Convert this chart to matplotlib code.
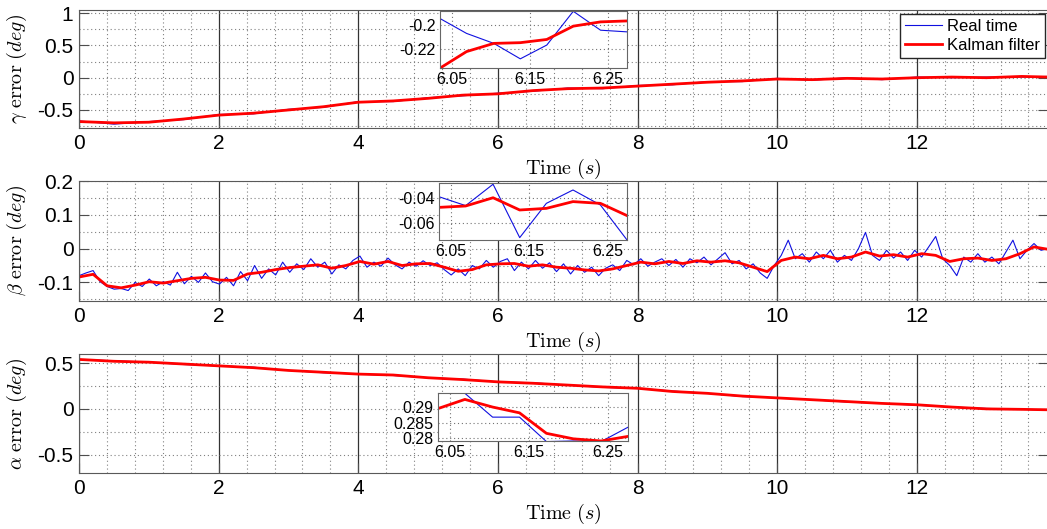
import numpy as np
import matplotlib
matplotlib.use('Agg')
import matplotlib.pyplot as plt

plt.rcParams['font.family'] = ['Liberation Sans', 'DejaVu Sans']
plt.rcParams['mathtext.fontset'] = 'cm'

# ---- gamma error (coarse samples, s / deg)
t_gamma = [0, 0.5, 1.0, 1.5, 2.0, 2.5, 3.0, 3.5, 4.0, 4.5, 5.0, 5.5, 6.0, 6.5,
           7.0, 7.5, 8.0, 8.5, 9.0, 9.5, 10.0, 10.5, 11.0, 11.5, 12.0, 12.5,
           13.0, 13.5, 13.9]
gamma_kf = [-0.68, -0.70, -0.69, -0.64, -0.58, -0.55, -0.50, -0.45, -0.38, -0.36,
            -0.32, -0.27, -0.25, -0.20, -0.17, -0.16, -0.13, -0.10, -0.07, -0.05,
            -0.02, -0.03, -0.01, -0.02, 0.00, 0.01, 0.00, 0.02, 0.01]
gamma_rt = [-0.67, -0.72, -0.68, -0.65, -0.57, -0.56, -0.49, -0.46, -0.37, -0.37,
            -0.31, -0.28, -0.24, -0.21, -0.16, -0.17, -0.12, -0.11, -0.06, -0.06,
            -0.01, -0.04, 0.00, -0.03, 0.01, 0.00, 0.01, 0.01, 0.02]

# ---- beta error
beta_kf = [-0.084, -0.076, -0.110, -0.116, -0.108, -0.098, -0.102, -0.095, -0.088, -0.085,
           -0.093, -0.094, -0.075, -0.070, -0.062, -0.056, -0.052, -0.048, -0.058, -0.050,
           -0.038, -0.046, -0.038, -0.050, -0.045, -0.044, -0.055, -0.067, -0.062, -0.048,
           -0.045, -0.044, -0.052, -0.048, -0.055, -0.058, -0.063, -0.066, -0.060, -0.050,
           -0.040, -0.045, -0.038, -0.044, -0.036, -0.040, -0.036, -0.042, -0.055, -0.068,
           -0.035, -0.025, -0.030, -0.020, -0.030, -0.025, -0.010, -0.022, -0.018, -0.025,
           -0.015, -0.020, -0.038, -0.030, -0.028, -0.035, -0.030, -0.015, 0.005, -0.002]
beta_rt = [-0.080, -0.072, -0.065, -0.098, -0.112, -0.120, -0.118, -0.124, -0.100, -0.112,
           -0.090, -0.110, -0.098, -0.108, -0.070, -0.104, -0.082, -0.100, -0.072, -0.098,
           -0.105, -0.085, -0.110, -0.068, -0.095, -0.050, -0.088, -0.060, -0.078, -0.040,
           -0.070, -0.045, -0.062, -0.030, -0.055, -0.040, -0.075, -0.048, -0.060, -0.035,
           -0.022, -0.055, -0.040, -0.052, -0.028, -0.048, -0.060, -0.040, -0.052, -0.036,
           -0.050, -0.042, -0.062, -0.078, -0.060, -0.080, -0.050, -0.060, -0.035, -0.055,
           -0.038, -0.030, -0.065, -0.040, -0.060, -0.035, -0.058, -0.042, -0.068, -0.045,
           -0.075, -0.050, -0.070, -0.055, -0.080, -0.058, -0.048, -0.065, -0.035, -0.048,
           -0.030, -0.052, -0.040, -0.030, -0.050, -0.032, -0.055, -0.030, -0.042, -0.025,
           -0.048, -0.030, -0.012, -0.045, -0.035, -0.060, -0.045, -0.072, -0.088, -0.050,
           -0.020, 0.025, -0.030, -0.015, -0.040, -0.010, -0.030, -0.005, -0.040, -0.020,
           -0.035, 0.000, 0.048, -0.020, -0.035, -0.005, -0.028, -0.010, -0.035, -0.005,
           -0.025, 0.005, 0.036, -0.030, -0.050, -0.080, -0.025, -0.040, -0.015, -0.040,
           -0.025, -0.045, -0.010, 0.025, -0.030, -0.005, 0.015, -0.005, 0.000]
t_beta_kf = np.linspace(0, 13.88, len(beta_kf))
t_beta_rt = np.linspace(0, 13.88, len(beta_rt))

# ---- alpha error
alpha_kf = [0.54, 0.52, 0.51, 0.49, 0.47, 0.45, 0.42, 0.40, 0.38, 0.37, 0.34, 0.32,
            0.295, 0.28, 0.26, 0.24, 0.225, 0.19, 0.17, 0.14, 0.12, 0.10, 0.08, 0.06,
            0.045, 0.02, 0.00, -0.005, -0.01]
alpha_rt = [0.54, 0.525, 0.51, 0.485, 0.47, 0.455, 0.42, 0.395, 0.38, 0.365, 0.34, 0.325,
            0.295, 0.285, 0.26, 0.235, 0.225, 0.195, 0.17, 0.135, 0.12, 0.10, 0.075, 0.06,
            0.04, 0.02, 0.005, -0.005, -0.01]

# ---- zoomed windows
t_zoom = [6.035, 6.069, 6.104, 6.138, 6.172, 6.206, 6.241, 6.275]
gz_kf = [-0.2361, -0.2222, -0.2153, -0.2147, -0.2120, -0.2008, -0.1972, -0.1964]
gz_rt = [-0.1944, -0.2069, -0.2153, -0.2283, -0.2167, -0.1883, -0.2042, -0.2056]
bz_kf = [-0.0475, -0.0464, -0.0398, -0.0496, -0.0483, -0.0429, -0.0443, -0.0541]
bz_rt = [-0.0390, -0.0461, -0.0290, -0.0717, -0.0443, -0.0336, -0.0456, -0.0736]
az_kf = [0.2896, 0.2926, 0.2901, 0.2882, 0.2815, 0.2797, 0.2790, 0.2805]
az_rt = [0.2946, 0.2946, 0.2868, 0.2868, 0.2788, 0.2790, 0.2788, 0.2835]

DOT = (0, (1, 2.5))


def style_main(ax, ylim, yticks, yminor, ylabel):
    ax.set_xlim(0, 13.88)
    ax.set_ylim(ylim)
    ax.set_xticks(range(0, 13, 2))
    ax.set_xticks(np.arange(0, 13.9, 0.4), minor=True)
    ax.set_yticks(yticks)
    ax.set_yticks(yminor, minor=True)
    ax.set_yticklabels([('%g' % v) for v in yticks])
    ax.tick_params(which='major', direction='in', length=7, width=0.8,
                   labelsize=15, pad=4, right=True, color='0.3')
    ax.tick_params(which='minor', length=0)
    ax.grid(which='major', axis='x', color='0.2', linestyle='-', linewidth=0.9)
    ax.grid(which='major', axis='y', color='0.5', linestyle=DOT, linewidth=0.8)
    ax.grid(which='minor', color='0.5', linestyle=DOT, linewidth=0.8)
    ax.set_axisbelow(True)
    for s in ax.spines.values():
        s.set_color('0.35')
    ax.set_xlabel(r'$\mathrm{Time}\ (s)$', fontsize=14.5, labelpad=3)
    ax.set_ylabel(ylabel, fontsize=14.5, labelpad=6)


def style_inset(ax, ylim, yticks, ylabels):
    ax.set_xlim(6.035, 6.275)
    ax.set_ylim(ylim)
    ax.set_xticks([6.05, 6.15, 6.25])
    ax.set_xticklabels(['6.05', '6.15', '6.25'])
    ax.set_yticks(yticks)
    ax.set_yticklabels(ylabels)
    ax.tick_params(direction='in', length=0, labelsize=11.5, pad=3)
    ax.grid(True, color='0.45', linestyle=DOT, linewidth=0.8)
    for s in ax.spines.values():
        s.set_color('0.4')


fig = plt.figure(figsize=(10.47, 5.29), dpi=100)

ax1 = fig.add_axes([0.0755, 0.758, 0.9255, 0.2231])
ax1.plot(t_gamma, gamma_rt, color='#1010e0', lw=0.8, label='Real time')
ax1.plot(t_gamma, gamma_kf, color='#ff0000', lw=2.0, label='Kalman filter')
style_main(ax1, (-0.78, 1.05), [-0.5, 0, 0.5, 1], [-0.75, -0.25, 0.25, 0.75],
           r'$\gamma\ \mathrm{error}\ (deg)$')
ax1.legend(loc='upper right', bbox_to_anchor=(0.998, 0.974), bbox_transform=fig.transFigure,
           borderaxespad=0, fontsize=12, fancybox=False, framealpha=1,
           edgecolor='0.15', handlelength=2.2, handletextpad=0.3,
           labelspacing=0.25, borderpad=0.3)

ax2 = fig.add_axes([0.0755, 0.431, 0.9255, 0.2268])
ax2.plot(t_beta_rt, beta_rt, color='#1010e0', lw=0.8)
ax2.plot(t_beta_kf, beta_kf, color='#ff0000', lw=2.0)
style_main(ax2, (-0.155, 0.2), [-0.1, 0, 0.1, 0.2], [-0.15, -0.05, 0.05, 0.15],
           r'$\beta\ \mathrm{error}\ (deg)$')

ax3 = fig.add_axes([0.0755, 0.1059, 0.9255, 0.2250])
ax3.plot(t_gamma, alpha_rt, color='#1010e0', lw=0.8)
ax3.plot(t_gamma, alpha_kf, color='#ff0000', lw=2.0)
style_main(ax3, (-0.7, 0.6), [-0.5, 0, 0.5], [-0.25, 0.25],
           r'$\alpha\ \mathrm{error}\ (deg)$')

in1 = fig.add_axes([0.4203, 0.8715, 0.1786, 0.1078])
in1.plot(t_zoom, gz_rt, color='#1010e0', lw=0.8)
in1.plot(t_zoom, gz_kf, color='#ff0000', lw=2.0)
style_inset(in1, (-0.236, -0.188), [-0.22, -0.2], ['-0.22', '-0.2'])

in2 = fig.add_axes([0.4193, 0.5463, 0.1796, 0.1078])
in2.plot(t_zoom, bz_rt, color='#1010e0', lw=0.8)
in2.plot(t_zoom, bz_kf, color='#ff0000', lw=2.0)
style_inset(in2, (-0.0736, -0.028), [-0.06, -0.04], ['-0.06', '-0.04'])

in3 = fig.add_axes([0.4183, 0.1664, 0.1815, 0.0907])
in3.plot(t_zoom, az_rt, color='#1010e0', lw=0.8)
in3.plot(t_zoom, az_kf, color='#ff0000', lw=2.0)
style_inset(in3, (0.279, 0.2947), [0.28, 0.285, 0.29], ['0.28', '0.285', '0.29'])

fig.savefig('out.png', dpi=100)
